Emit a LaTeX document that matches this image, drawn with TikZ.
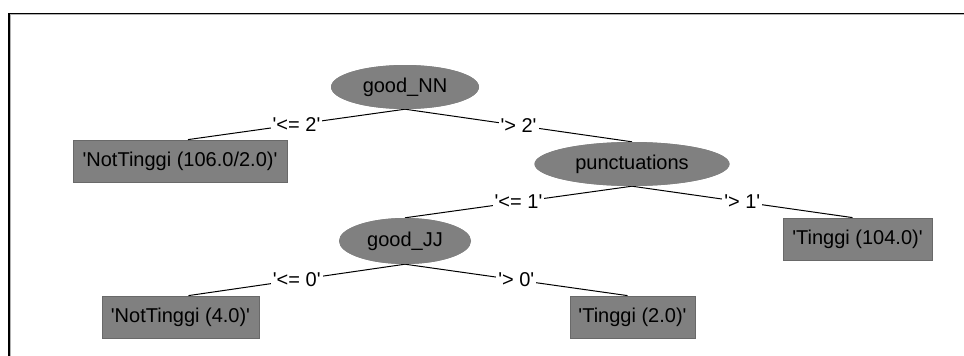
\documentclass[tikz,border=0pt]{standalone}
\usepackage{fontspec}
\setmainfont{Liberation Sans}
\usetikzlibrary{shapes.geometric}
\definecolor{nodegray}{RGB}{128,128,128}
\definecolor{edgegray}{RGB}{105,105,105}
\newcommand{\sq}[1]{\textquotesingle#1\textquotesingle}
\begin{document}
\begin{tikzpicture}[x=1pt,y=1pt,
  every node/.style={font=\fontsize{20}{22}\selectfont},
  split/.style={ellipse, fill=nodegray, inner sep=0pt, minimum height=44pt},
  leaf/.style={rectangle, fill=nodegray, draw=edgegray, line width=0.8pt,
               inner sep=0pt, minimum height=42pt},
  branch/.style={draw=black, line width=1pt},
  cond/.style={fill=white, inner sep=2pt}
]
\useasboundingbox (0,0) rectangle (964,-356);
\fill[white] (0,0) rectangle (964,-356);
% panel frame (top and left edges visible)
\draw[line width=1.3pt] (9,-356) -- (9,-13.5) -- (964,-13.5);
\draw[line width=0.8pt, gray!60] (10.2,-356) -- (10.2,-14.8) -- (964,-14.8);

% decision nodes
\node[split, minimum width=148pt] (nn)    at (405,-87)  {good\_NN};
\node[split, minimum width=195pt] (punct) at (632,-164) {punctuations};
\node[split, minimum width=132pt, minimum height=46pt] (jj) at (405,-241) {good\_JJ};

% leaves
\node[leaf, minimum width=214pt] (l1) at (180,-161)   {\sq{NotTinggi (106.0/2.0)}};
\node[leaf, minimum width=149pt] (l2) at (857.5,-239) {\sq{Tinggi (104.0)}};
\node[leaf, minimum width=157pt] (l3) at (180.5,-317) {\sq{NotTinggi (4.0)}};
\node[leaf, minimum width=125pt] (l4) at (632.5,-317) {\sq{Tinggi (2.0)}};

% branches with their conditions
\draw[branch] (nn.south) -- ([xshift=8pt]l1.north) node[midway, cond] {\sq{<= 2}};
\draw[branch] (nn.south) -- (punct.north)         node[midway, cond] {\sq{> 2}};
\draw[branch] (punct.south) -- (jj.north)         node[midway, cond] {\sq{<= 1}};
\draw[branch] (punct.south) -- ([xshift=-5pt]l2.north) node[midway, cond] {\sq{> 1}};
\draw[branch] (jj.south) -- ([xshift=8pt]l3.north) node[midway, cond] {\sq{<= 0}};
\draw[branch] (jj.south) -- ([xshift=-5pt]l4.north) node[midway, cond] {\sq{> 0}};

% redraw nodes above the branch ends
\node[split, minimum width=148pt] at (nn) {good\_NN};
\node[split, minimum width=195pt] at (punct) {punctuations};
\node[split, minimum width=132pt, minimum height=46pt] at (jj) {good\_JJ};
\end{tikzpicture}
\end{document}
